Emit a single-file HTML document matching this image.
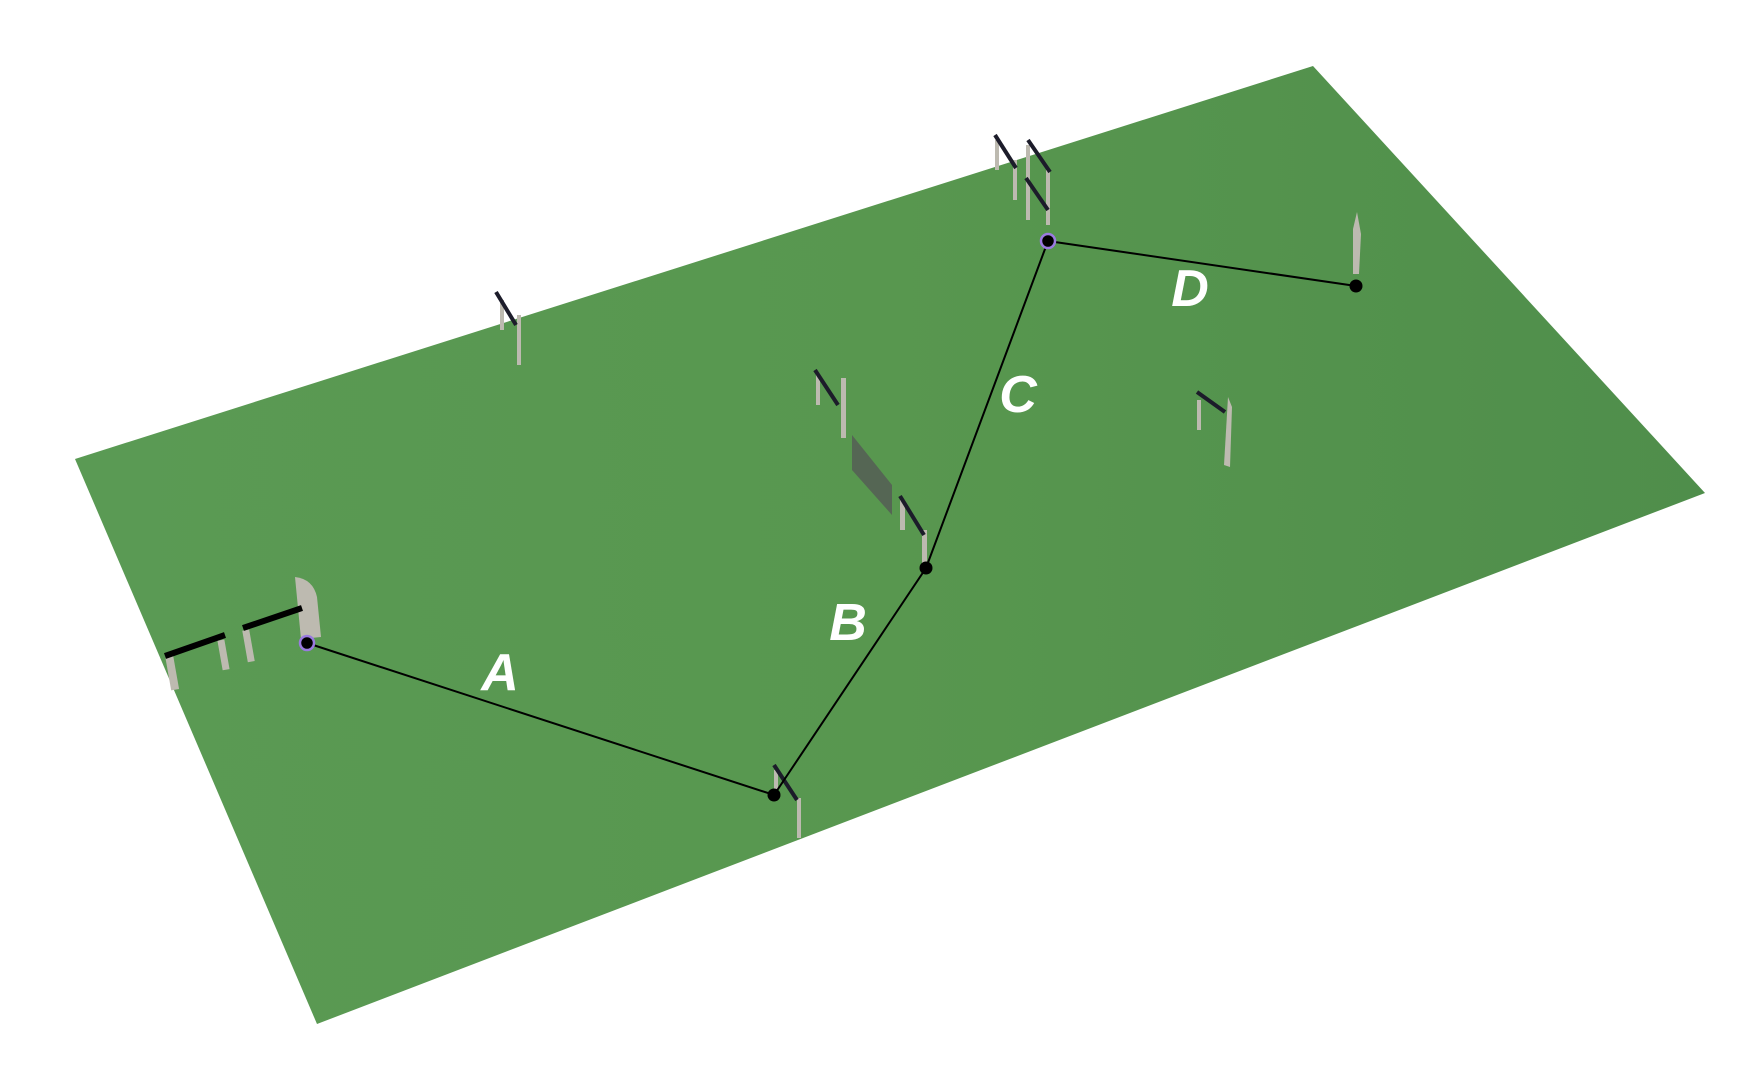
<!DOCTYPE html>
<html><head><meta charset="utf-8"><style>
html,body{margin:0;padding:0;background:#fff;width:1750px;height:1079px;overflow:hidden}
</style></head><body>
<svg width="1750" height="1079" viewBox="0 0 1750 1079" xmlns="http://www.w3.org/2000/svg">
<defs>
<linearGradient id="g" x1="0" y1="0" x2="1" y2="0">
<stop offset="0" stop-color="#5a9a54"/>
<stop offset="0.5" stop-color="#58974f"/>
<stop offset="1" stop-color="#4f8e4b"/>
</linearGradient>
</defs>
<polygon points="75,459 1313,66 1705,493 317,1024" fill="url(#g)"/>
<g fill="#bdbab0">
<path d="M295,577 q18,2 22,20 l4,40 l-20,2 z"/>
<rect x="168" y="655" width="8" height="35" transform="rotate(-10 172 672)"/>
<rect x="220" y="640" width="7" height="30" transform="rotate(-10 223 655)"/>
<rect x="245" y="630" width="7" height="32" transform="rotate(-10 248 646)"/>
<rect x="500" y="300" width="4" height="30"/><rect x="517" y="315" width="4" height="50"/>
<rect x="816" y="375" width="4" height="30"/><rect x="841" y="378" width="5" height="60"/>
<rect x="900" y="500" width="5" height="30"/><rect x="922" y="530" width="5" height="35"/>
<rect x="995" y="140" width="4" height="30"/><rect x="1013" y="160" width="4" height="40"/>
<rect x="1026" y="145" width="4" height="75"/><rect x="1046" y="170" width="4" height="55"/>
<path d="M1357,212 l4,22 l-2,40 l-6,0 l0,-45 z"/>
<rect x="1197" y="400" width="4" height="30"/><path d="M1228,397 l4,10 l-2,60 l-6,-2 z"/>
<rect x="774" y="770" width="4" height="25"/><rect x="797" y="798" width="4" height="40"/>
</g>
<g stroke="#1c1c2a" stroke-width="4" fill="none">
<line x1="165" y1="656" x2="225" y2="635" stroke="#000" stroke-width="6"/>
<line x1="243" y1="628" x2="302" y2="608" stroke="#000" stroke-width="6"/>
<line x1="496" y1="292" x2="516" y2="325"/>
<line x1="815" y1="370" x2="838" y2="405"/>
<line x1="900" y1="496" x2="924" y2="535"/>
<line x1="995" y1="135" x2="1016" y2="168"/>
<line x1="1028" y1="140" x2="1050" y2="172"/>
<line x1="1026" y1="178" x2="1048" y2="210"/>
<line x1="1197" y1="392" x2="1225" y2="412"/>
<line x1="774" y1="765" x2="797" y2="800"/>
</g>
<polygon points="852,435 892,485 892,515 852,470" fill="#555a55" opacity="0.8"/>
<polyline points="307,643 774,795 926,568 1048,241 1356,286" fill="none" stroke="#000" stroke-width="2"/>
<circle cx="307" cy="643" r="7" fill="#000" stroke="#9a7ae0" stroke-width="2.5"/>
<circle cx="1048" cy="241" r="7" fill="#000" stroke="#9a7ae0" stroke-width="2.5"/>
<circle cx="774" cy="795" r="6.5" fill="#000"/>
<circle cx="926" cy="568" r="6.5" fill="#000"/>
<circle cx="1356" cy="286" r="6.5" fill="#000"/>
<g font-family="Liberation Sans, sans-serif" font-style="italic" font-weight="bold" font-size="52" fill="#fff" text-anchor="middle">
<text x="500" y="690">A</text>
<text x="848" y="640">B</text>
<text x="1018" y="412">C</text>
<text x="1190" y="306">D</text>
</g>
</svg>
</body></html>
